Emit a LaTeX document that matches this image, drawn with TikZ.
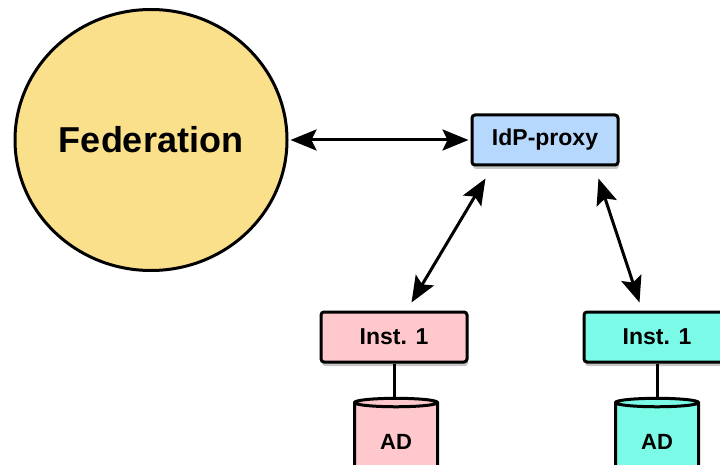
\documentclass[tikz,border=0pt]{standalone}
\usepackage{fontspec}
\setmainfont{Liberation Sans}
\usepackage{xcolor}
\usetikzlibrary{positioning}
\usetikzlibrary{shapes.geometric}
\usetikzlibrary{shadows}
\usetikzlibrary{arrows.meta}

\definecolor{fedfill}{HTML}{FBE08C}
\definecolor{idpfill}{HTML}{B5D8FC}
\definecolor{instpink}{HTML}{FFC8CC}
\definecolor{instcyan}{HTML}{7CFAE8}

\begin{document}
\begin{tikzpicture}[x=1pt, y=-1pt,
  box/.style={draw, line width=3pt, rounded corners=3pt, minimum width=146pt, minimum height=50pt,
    font=\fontsize{23}{27}\selectfont\bfseries,
    drop shadow={shadow xshift=1pt, shadow yshift=-4pt, opacity=0.45}},
  dbase/.style={draw, line width=3pt, cylinder, shape border rotate=90, aspect=0.22,
    minimum width=83pt, minimum height=80pt, cylinder uses custom fill,
    font=\fontsize{22}{26}\selectfont\bfseries},
  link/.style={line width=3pt,
    arrows={Stealth[length=26pt,width=21pt,inset=5pt]-Stealth[length=26pt,width=21pt,inset=5pt]}}]

\useasboundingbox (0,0) rectangle (720,465);

\node[draw, ellipse, line width=3pt, fill=fedfill, minimum width=272pt, minimum height=261pt,
  font=\fontsize{36}{42}\selectfont\bfseries] (fed) at (151,140) {Federation};

\node[box, fill=idpfill] (idp) at (545,140) {IdP-proxy};

\node[box, fill=instpink] (inst1) at (394,337) {Inst. 1};
\node[box, fill=instcyan] (inst2) at (657,337) {Inst. 1};

\node[dbase, cylinder body fill=instpink, cylinder end fill=instpink] (ad1) at (396,442) {AD};
\node[dbase, cylinder body fill=instcyan, cylinder end fill=instcyan] (ad2) at (657,442) {AD};

\path[draw, link] ([xshift=2pt]fed.east) -- ([xshift=-2pt]idp.west);
\path[draw, link] ([xshift=15pt, yshift=-12pt]idp.south west) -- ([xshift=92pt, yshift=8pt]inst1.north west);
\path[draw, link] ([xshift=-21pt, yshift=-12pt]idp.south east) -- ([xshift=57pt, yshift=8pt]inst2.north west);

\path[draw, line width=3pt] (inst1.south) -- (inst1.south |- ad1.north);
\path[draw, line width=3pt] (inst2.south) -- (inst2.south |- ad2.north);

\end{tikzpicture}
\end{document}
